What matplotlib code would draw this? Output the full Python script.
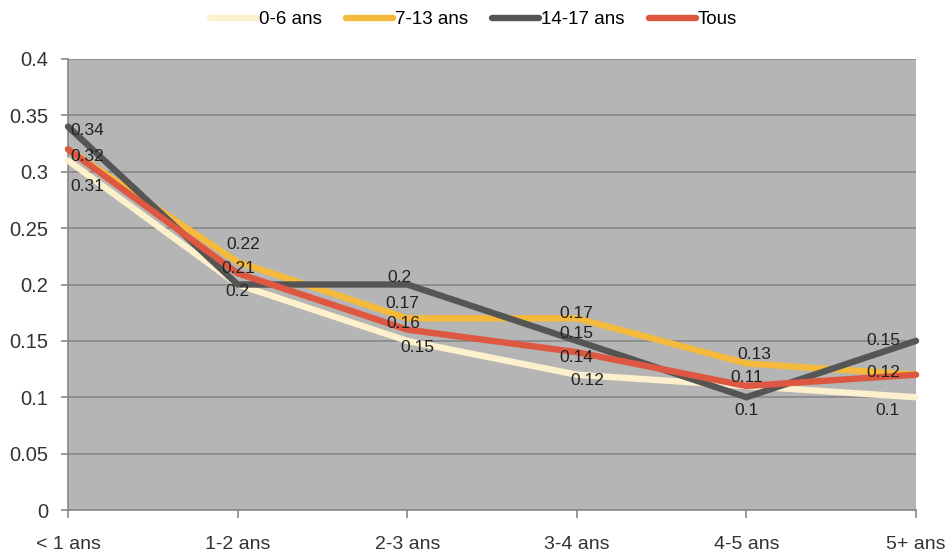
import matplotlib.pyplot as plt
import numpy as np

# data
categories = ["< 1 ans", "1-2 ans", "2-3 ans", "3-4 ans", "4-5 ans", "5+ ans"]
series_names = ["0-6 ans", "7-13 ans", "14-17 ans", "Tous"]
v_0_6 = [0.31, 0.20, 0.15, 0.12, 0.11, 0.10]
v_7_13 = [0.32, 0.22, 0.17, 0.17, 0.13, 0.12]
v_14_17 = [0.34, 0.20, 0.20, 0.15, 0.10, 0.15]
v_tous = [0.32, 0.21, 0.16, 0.14, 0.11, 0.12]
yticks = [0, 0.05, 0.1, 0.15, 0.2, 0.25, 0.3, 0.35, 0.4]

colors = ["#fdf0cc", "#f5b93c", "#555555", "#de5841"]

# label offsets in pixels (dx, dy); None = label hidden behind another one
offsets = [
    [(2, -26), (0, -7), (10, -7), (11, -6), None, (-16, -13)],
    [None, (6, 17), (-5, 15), (0, 5), (8, 9), None],
    [(2, -4), None, (-8, 7), (0, 7), (0, -13), (-16, 0)],
    [(2, -7), (1, 5), (-4, 6), (0, -5), (0, 8), (-16, 2)],
]

plt.rcParams['font.family'] = ['Liberation Sans', 'DejaVu Sans']

fig = plt.figure(figsize=(9.47, 5.54), dpi=100)
ax = fig.add_axes([68 / 947, 44 / 554, 848 / 947, 451 / 554])
ax.set_facecolor("#b4b5b4")

x = np.arange(len(categories))
all_vals = [v_0_6, v_7_13, v_14_17, v_tous]
for vals, name, c in zip(all_vals, series_names, colors):
    ax.plot(x, vals, color=c, lw=4.6, label=name, solid_capstyle="round",
            solid_joinstyle="miter", zorder=3, clip_on=False)

for vals, offs in zip(all_vals, offsets):
    for i, (v, o) in enumerate(zip(vals, offs)):
        if o is None:
            continue
        ha = "left" if i == 0 else ("right" if i == len(vals) - 1 else "center")
        ax.annotate(f"{v:g}", (i, v), xytext=(o[0] * 0.72, o[1] * 0.72),
                    textcoords="offset points", ha=ha, va="center",
                    fontsize=12.5, color="#222222", zorder=5)

ax.set_xlim(0, len(categories) - 1)
ax.set_ylim(0, 0.4)
ax.set_yticks(yticks)
ax.set_yticklabels([f"{t:g}" for t in yticks])
ax.set_xticks(x)
ax.set_xticklabels(categories)
ax.grid(axis="y", color="#888888", lw=1.2, zorder=1)
ax.set_axisbelow(True)

for s in ["top", "right"]:
    ax.spines[s].set_visible(False)
for s in ["left", "bottom"]:
    ax.spines[s].set_color("#888888")
    ax.spines[s].set_linewidth(1.2)

ax.tick_params(axis="y", length=5, color="#888888", width=1.2, labelsize=14.5,
               labelcolor="#333333", pad=9)
ax.tick_params(axis="x", length=6, color="#888888", width=1.2, labelsize=14,
               labelcolor="#333333", pad=13)

fig.legend(loc="upper center", bbox_to_anchor=(0.5, 1.0), ncol=4, frameon=False,
           fontsize=13.5, handlelength=2.5, handletextpad=0.1, columnspacing=1.3,
           borderaxespad=0.2)

fig.savefig("out.png", dpi=100)
